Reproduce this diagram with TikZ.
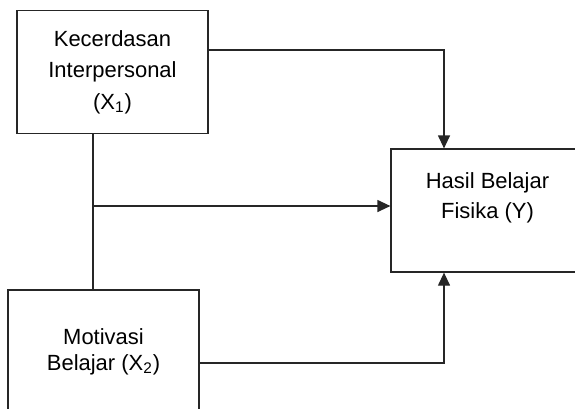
\documentclass[tikz,border=0pt]{standalone}
\usepackage{fontspec}
\setmainfont{Liberation Sans}
\usepackage{tikz}
\usetikzlibrary{arrows.meta}
\tikzset{
  varbox/.style={
    draw=black!85,
    line width=0.7pt,
    minimum width=3.82cm,
    minimum height=2.46cm,
    align=center,
    inner sep=0pt,
    font=\fontsize{12.5}{17.9}\selectfont
  },
  vartext/.style={
    align=center,
    inner sep=0pt,
    font=\fontsize{12.5}{17}\selectfont
  },
  linkline/.style={
    draw=black!85,
    line width=0.7pt
  },
  linkarrow/.style={
    linkline,
    -{Triangle[length=0.26cm,width=0.24cm]}
  }
}

\begin{document}
\begin{tikzpicture}
  \useasboundingbox (0,0) rectangle (11.5,-8.16);
  \clip (0,0) rectangle (11.5,-8.16);
  \node[varbox] (kecerdasan) at (2.25,-1.44) {Kecerdasan\\Interpersonal\\(X\textsubscript{1})};
  \node[varbox, minimum width=3.86cm] (hasil) at (9.75,-4.21) {};
  \node[vartext] (hasiltext) at ([yshift=0.25cm]hasil.center) {Hasil Belajar\\Fisika (Y)};
  \node[varbox, font=\fontsize{12.5}{14.8}\selectfont] (motivasi) at (2.07,-7.03) {Motivasi\\Belajar (X\textsubscript{2})};
  \coordinate (split) at (1.86,-4.12);
  % paths into Y
  \draw[linkarrow] ([yshift=0.44cm]kecerdasan.east) -| ([xshift=-0.87cm]hasil.north);
  \draw[linkline] (kecerdasan.south -| split) -- (motivasi.north -| split);
  \draw[linkarrow] (split) -- (split -| hasil.west);
  \draw[linkarrow] ([yshift=-0.23cm]motivasi.east) -| ([xshift=-0.87cm]hasil.south);
\end{tikzpicture}
\end{document}
